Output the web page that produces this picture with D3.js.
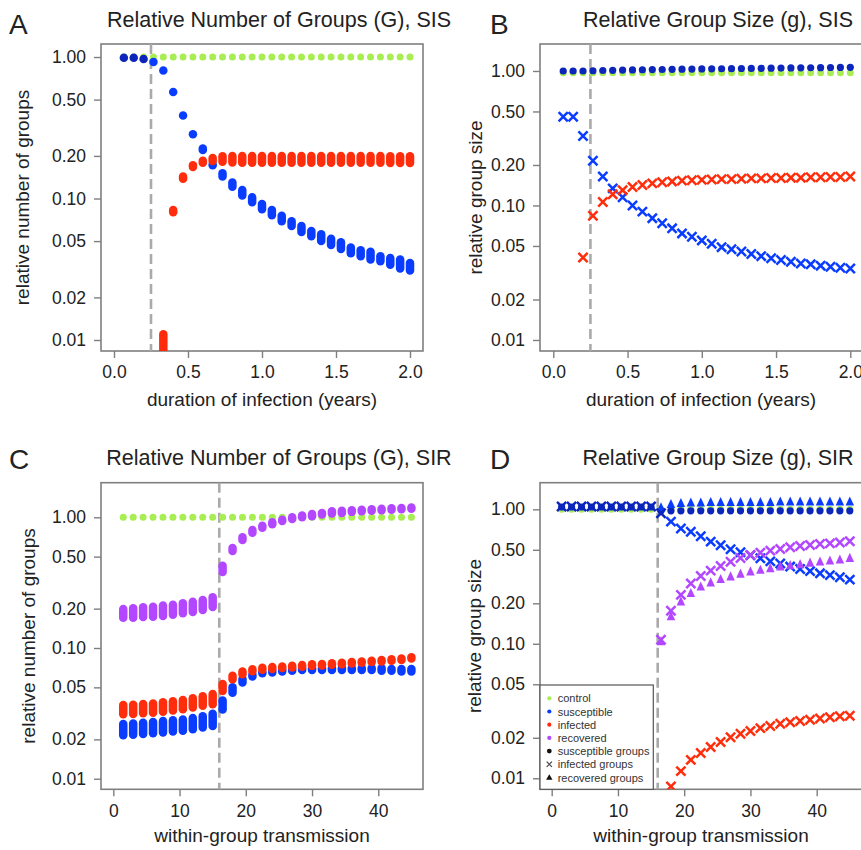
<!DOCTYPE html>
<html><head><meta charset="utf-8">
<script src="https://cdn.jsdelivr.net/npm/d3@7"></script>
<style>
body{margin:0;background:#fff}
svg{display:block}
text{font-family:"Liberation Sans",Arial,Helvetica,sans-serif;fill:#222}
</style>
</head><body>
<svg id="chart" width="861" height="850"></svg>
<script>
// ---------- categories / ticks ----------
const durations = [0.0667,0.1333,0.2,0.2667,0.3333,0.4,0.4667,0.5333,0.6,0.6667,0.7333,0.8,0.8667,0.9333,1,1.0667,1.1333,1.2,1.2667,1.3333,1.4,1.4667,1.5333,1.6,1.6667,1.7333,1.8,1.8667,1.9333,2];
const transmission = [1.5,3,4.5,6,7.5,9,10.5,12,13.5,15,16.5,18,19.5,21,22.5,24,25.5,27,28.5,30,31.5,33,34.5,36,37.5,39,40.5,42,43.5,45];
const yTickValues = [1,0.5,0.2,0.1,0.05,0.02,0.01];
const yTickLabels = ["1.00","0.50","0.20","0.10","0.05","0.02","0.01"];
const durationTicks = [0,0.5,1,1.5,2];
const durationTickLabels = ["0.0","0.5","1.0","1.5","2.0"];
const transmissionTicks = [0,10,20,30,40];
const thresholdDuration = 0.25;
const thresholdTransmission = 16;

// ---------- Panel A: relative number of groups, SIS (ranges over replicates) ----------
const aControl = [1,1,1,1,1,1,1,1,1,1,1,1,1,1,1,1,1,1,1,1,1,1,1,1,1,1,1,1,1,1];
const aSusLo = [0.99,0.99,0.97,0.922,0.803,0.566,0.386,0.285,0.22,0.172,0.143,0.121,0.105,0.094,0.084,0.076,0.069,0.064,0.058,0.054,0.050,0.047,0.044,0.041,0.039,0.037,0.036,0.034,0.032,0.031];
const aSusHi = [0.99,0.99,0.97,0.922,0.803,0.566,0.386,0.285,0.226,0.174,0.151,0.130,0.115,0.102,0.0915,0.083,0.0756,0.069,0.064,0.059,0.056,0.052,0.049,0.045,0.043,0.042,0.039,0.038,0.037,0.035];
const aInfLo = [null,null,null,null,0.006,0.080,0.138,0.167,0.179,0.184,0.182,0.180,0.179,0.179,0.179,0.179,0.179,0.179,0.179,0.179,0.179,0.179,0.179,0.179,0.179,0.179,0.179,0.178,0.178,0.178];
const aInfHi = [null,null,null,null,0.011,0.083,0.143,0.172,0.185,0.193,0.199,0.200,0.200,0.200,0.200,0.200,0.200,0.200,0.200,0.200,0.200,0.200,0.200,0.200,0.200,0.200,0.200,0.199,0.199,0.199];

// ---------- Panel B: relative group size, SIS ----------
const bControl = [0.97,0.97,0.97,0.97,0.97,0.97,0.97,0.97,0.97,0.97,0.97,0.97,0.97,0.97,0.97,0.97,0.97,0.97,0.97,0.97,0.97,0.97,0.97,0.97,0.97,0.97,0.97,0.97,0.97,0.97];
const bSusGroups = [1.0,1.0,1.0,1.004,1.008,1.012,1.015,1.018,1.021,1.024,1.026,1.029,1.031,1.033,1.035,1.037,1.039,1.041,1.043,1.045,1.047,1.049,1.051,1.053,1.055,1.057,1.059,1.061,1.063,1.065];
const bSusInInfGroups = [0.457,0.457,0.329,0.215,0.164,0.134,0.115,0.100,0.090,0.0805,0.0737,0.0676,0.0620,0.0586,0.0550,0.0520,0.0490,0.0473,0.0455,0.0436,0.0420,0.0405,0.0393,0.0382,0.0370,0.0365,0.0357,0.0350,0.0344,0.0340];
const bInfInInfGroups = [null,null,0.041,0.084,0.106,0.121,0.130,0.137,0.142,0.146,0.149,0.151,0.153,0.154,0.155,0.156,0.157,0.157,0.158,0.159,0.159,0.160,0.160,0.161,0.161,0.162,0.162,0.163,0.163,0.164];

// ---------- Panel C: relative number of groups, SIR (ranges over replicates) ----------
const cControl = [1,1,1,1,1,1,1,1,1,1,1,1,1,1,1,1,1,1,1,1,1,1,1,1,1,1,1,1,1,1];
const cSusLo = [0.0215,0.0217,0.022,0.0223,0.0226,0.023,0.0233,0.0239,0.0246,0.0253,0.0339,0.0455,0.0545,0.0605,0.064,0.065,0.066,0.067,0.068,0.068,0.068,0.068,0.068,0.068,0.068,0.068,0.067,0.067,0.066,0.066];
const cSusHi = [0.0262,0.0265,0.0268,0.0272,0.0276,0.028,0.0284,0.0291,0.030,0.0314,0.0396,0.0501,0.058,0.0625,0.0651,0.067,0.068,0.069,0.070,0.070,0.070,0.070,0.070,0.070,0.070,0.070,0.070,0.069,0.069,0.069];
const cInfLo = [0.0311,0.0313,0.0317,0.032,0.0326,0.0332,0.034,0.035,0.0362,0.0371,0.0469,0.0577,0.0629,0.0665,0.0682,0.069,0.0703,0.071,0.072,0.073,0.0735,0.0745,0.075,0.076,0.077,0.078,0.079,0.080,0.081,0.083];
const cInfHi = [0.0366,0.0368,0.0373,0.0377,0.0384,0.0391,0.040,0.0412,0.0427,0.0445,0.053,0.0614,0.0662,0.0688,0.0706,0.0715,0.0722,0.073,0.074,0.075,0.0755,0.0765,0.077,0.078,0.079,0.080,0.081,0.082,0.083,0.085];
const cRecLo = [0.1706,0.1706,0.1727,0.1736,0.1757,0.1798,0.1842,0.1886,0.1953,0.206,0.3815,0.552,0.67,0.763,0.833,0.884,0.937,0.97,1.0,1.02,1.05,1.07,1.08,1.10,1.11,1.12,1.13,1.14,1.15,1.16];
const cRecHi = [0.199,0.201,0.205,0.207,0.211,0.2145,0.2198,0.226,0.233,0.244,0.426,0.582,0.703,0.80,0.862,0.916,0.959,1.0,1.03,1.06,1.08,1.11,1.12,1.13,1.14,1.15,1.16,1.17,1.18,1.19];

// ---------- Panel D: relative group size, SIR ----------
const dControl = [1,1,1,1,1,1,1,1,1,1,1,1,1,1,1,1,1,1,1,1,1,1,1,1,1,1,1,1,1,1];
const dSusInSusGroups = [1.04,1.04,1.04,1.04,1.04,1.04,1.04,1.04,1.04,1.04,0.975,0.975,0.975,0.975,0.975,0.975,0.975,0.975,0.975,0.975,0.975,0.975,0.975,0.975,0.975,0.975,0.975,0.975,0.975,0.975];
const dSusInInfGroups = [1.05,1.05,1.05,1.05,1.05,1.05,1.05,1.05,1.05,1.05,0.934,0.81,0.72,0.68,0.63,0.575,0.54,0.505,0.48,0.455,0.432,0.41,0.395,0.375,0.36,0.347,0.334,0.324,0.312,0.30];
const dSusInRecGroups = [null,null,null,null,null,null,null,null,null,null,1.03,1.09,1.11,1.12,1.12,1.13,1.13,1.13,1.13,1.13,1.13,1.13,1.14,1.14,1.14,1.14,1.14,1.14,1.14,1.14];
const dInfInInfGroups = [null,null,null,null,null,null,null,null,null,null,null,0.0087,0.0113,0.0137,0.0154,0.0171,0.0186,0.0202,0.0214,0.0225,0.0236,0.0245,0.0254,0.0261,0.0267,0.0272,0.0278,0.0284,0.0289,0.0292];
const dRecInInfGroups = [null,null,null,null,null,null,null,null,null,null,0.107,0.176,0.231,0.281,0.319,0.35,0.379,0.408,0.434,0.458,0.476,0.493,0.507,0.522,0.534,0.543,0.552,0.558,0.567,0.578];
const dRecInRecGroups = [null,null,null,null,null,null,null,null,null,null,0.104,0.16,0.206,0.238,0.266,0.285,0.302,0.316,0.331,0.344,0.354,0.364,0.375,0.383,0.39,0.40,0.408,0.415,0.422,0.434];

const legendLabels = ["control","susceptible","infected","recovered","susceptible groups","infected groups","recovered groups"];

// ---------- styles ----------
const COL = {green:"#a8ee52", blue:"#0a3cff", blueDark:"#0c26bc", red:"#ff2d0c", purple:"#b247ff", grid:"#7f7f7f", dash:"#aaaaaa"};

const svg = d3.select("#chart");
svg.append("rect").attr("width",861).attr("height",850).attr("fill","#fff");

function blueFor(v){ return Math.abs(Math.log10(v)) < 0.03 ? COL.blueDark : COL.blue; }

function makePanel(cfg){
  const g = svg.append("g");
  const x = d3.scaleLinear().domain(cfg.xDomain).range([cfg.left, cfg.left+cfg.w]);
  const y = d3.scaleLog().domain(cfg.yDomain).range([cfg.top+cfg.h, cfg.top]);
  const clipId = "clip"+cfg.letter;
  svg.append("clipPath").attr("id",clipId).append("rect")
    .attr("x",cfg.left).attr("y",cfg.top).attr("width",cfg.w).attr("height",cfg.h);
  // axes
  const ya = d3.axisLeft(y).tickValues(yTickValues).tickFormat((d,i)=>yTickLabels[i]).tickSize(7).tickPadding(8);
  const ay = g.append("g").attr("transform",`translate(${cfg.left},0)`).call(ya);
  const xa = d3.axisBottom(x).tickValues(cfg.xTicks).tickFormat((d,i)=>cfg.xTickLabels[i]).tickSize(7).tickPadding(8);
  const ax = g.append("g").attr("transform",`translate(0,${cfg.top+cfg.h})`).call(xa);
  [ay,ax].forEach(a=>{
    a.select(".domain").remove();
    a.selectAll(".tick line").attr("stroke",COL.grid).attr("stroke-width",1.4);
    a.selectAll(".tick text").attr("font-size",17.5).attr("fill","#222")
      .attr("font-family",'"Liberation Sans",Arial,sans-serif');
  });
  // box
  g.append("rect").attr("x",cfg.left).attr("y",cfg.top).attr("width",cfg.w).attr("height",cfg.h)
    .attr("fill","none").attr("stroke",COL.grid).attr("stroke-width",1.6);
  // dashed threshold
  g.append("line").attr("x1",x(cfg.threshold)).attr("x2",x(cfg.threshold))
    .attr("y1",cfg.top).attr("y2",cfg.top+cfg.h)
    .attr("stroke",COL.dash).attr("stroke-width",2.6).attr("stroke-dasharray","10,5");
  // labels
  svg.append("text").attr("x",cfg.letterX).attr("y",cfg.letterY).attr("font-size",28).text(cfg.letter);
  svg.append("text").attr("x",cfg.left+cfg.w/2+17).attr("y",cfg.titleY).attr("font-size",21.5)
    .attr("text-anchor","middle").text(cfg.title);
  svg.append("text").attr("x",cfg.left+161).attr("y",cfg.xTitleY).attr("font-size",19)
    .attr("text-anchor","middle").text(cfg.xTitle);
  svg.append("text").attr("transform",`translate(${cfg.yTitleX},${cfg.top+cfg.h/2}) rotate(-90)`)
    .attr("font-size",19).attr("text-anchor","middle").text(cfg.yTitle);
  const plot = svg.append("g").attr("clip-path",`url(#${clipId})`);
  return {x, y, plot};
}

function dots(P, xs, vals, color, r){
  P.plot.append("g").selectAll("circle")
    .data(xs.map((d,i)=>({x:d,v:vals[i]})).filter(d=>d.v!=null))
    .join("circle").attr("cx",d=>P.x(d.x)).attr("cy",d=>P.y(d.v)).attr("r",r)
    .attr("fill",d=> typeof color==="function" ? color(d.v) : color);
}
function pills(P, xs, lo, hi, color, w){
  P.plot.append("g").selectAll("rect")
    .data(xs.map((d,i)=>({x:d,lo:lo[i],hi:hi[i]})).filter(d=>d.lo!=null))
    .join("rect")
    .attr("x",d=>P.x(d.x)-w/2).attr("y",d=>P.y(d.hi)-w/2)
    .attr("width",w).attr("height",d=>P.y(d.lo)-P.y(d.hi)+w).attr("rx",w/2)
    .attr("fill",d=> typeof color==="function" ? color(d.hi) : color);
}
function crosses(P, xs, vals, color, s, sw){
  P.plot.append("g").selectAll("path")
    .data(xs.map((d,i)=>({x:d,v:vals[i]})).filter(d=>d.v!=null))
    .join("path")
    .attr("d",d=>{const cx=P.x(d.x), cy=P.y(d.v);
      return `M${cx-s},${cy-s}L${cx+s},${cy+s}M${cx-s},${cy+s}L${cx+s},${cy-s}`;})
    .attr("stroke",d=> typeof color==="function" ? color(d.v) : color)
    .attr("stroke-width",sw).attr("fill","none");
}
function triangles(P, xs, vals, color, s){
  P.plot.append("g").selectAll("path")
    .data(xs.map((d,i)=>({x:d,v:vals[i]})).filter(d=>d.v!=null))
    .join("path")
    .attr("d",d=>{const cx=P.x(d.x), cy=P.y(d.v);
      return `M${cx},${cy-s*0.62}L${cx+s/2},${cy+s*0.45}L${cx-s/2},${cy+s*0.45}Z`;})
    .attr("fill",color);
}

// ---------- Panel A ----------
const PA = makePanel({letter:"A", left:101, top:44, w:322, h:307,
  xDomain:[-0.0878,2.0878], yDomain:[0.00836,1.236],
  xTicks:durationTicks, xTickLabels:durationTickLabels, threshold:thresholdDuration,
  letterX:9, letterY:34, titleY:27, xTitleY:406, yTitleX:28.5,
  title:"Relative Number of Groups (G), SIS", xTitle:"duration of infection (years)", yTitle:"relative number of groups"});
dots(PA, durations, aControl, COL.green, 3.5);
pills(PA, durations, aSusLo, aSusHi, blueFor, 8.5);
pills(PA, durations, aInfLo, aInfHi, COL.red, 8.5);

// ---------- Panel B ----------
const PB = makePanel({letter:"B", left:540, top:44, w:322, h:307,
  xDomain:[-0.0896,2.0788], yDomain:[0.00828,1.587],
  xTicks:durationTicks, xTickLabels:durationTickLabels, threshold:thresholdDuration,
  letterX:490, letterY:34, titleY:27, xTitleY:406, yTitleX:481.5,
  title:"Relative Group Size (g), SIS", xTitle:"duration of infection (years)", yTitle:"relative group size"});
dots(PB, durations, bControl, COL.green, 3.5);
dots(PB, durations, bSusGroups, blueFor, 3.6);
crosses(PB, durations, bSusInInfGroups, COL.blue, 4.6, 2.5);
crosses(PB, durations, bInfInInfGroups, COL.red, 4.6, 2.5);

// ---------- Panel C ----------
const PC = makePanel({letter:"C", left:101, top:482.7, w:322, h:306.6,
  xDomain:[-1.857,46.75], yDomain:[0.0083,1.839],
  xTicks:transmissionTicks, xTickLabels:transmissionTicks.map(String), threshold:thresholdTransmission,
  letterX:9, letterY:469, titleY:465, xTitleY:842, yTitleX:35,
  title:"Relative Number of Groups (G), SIR", xTitle:"within-group transmission", yTitle:"relative number of groups"});
dots(PC, transmission, cControl, COL.green, 3.5);
pills(PC, transmission, cSusLo, cSusHi, COL.blue, 8.5);
pills(PC, transmission, cInfLo, cInfHi, COL.red, 8.5);
pills(PC, transmission, cRecLo, cRecHi, COL.purple, 8.5);

// ---------- Panel D ----------
const PD = makePanel({letter:"D", left:540, top:482.7, w:322, h:306.6,
  xDomain:[-1.766,46.84], yDomain:[0.00828,1.577],
  xTicks:transmissionTicks, xTickLabels:transmissionTicks.map(String), threshold:thresholdTransmission,
  letterX:490, letterY:469, titleY:465, xTitleY:842, yTitleX:480.5,
  title:"Relative Group Size (g), SIR", xTitle:"within-group transmission", yTitle:"relative group size"});
dots(PD, transmission, dControl, COL.green, 3.5);
dots(PD, transmission, dSusInSusGroups, blueFor, 3.6);
triangles(PD, transmission, dSusInRecGroups, COL.blue, 8.5);
crosses(PD, transmission, dSusInInfGroups, blueFor, 4.6, 2.5);
triangles(PD, transmission, dRecInRecGroups, COL.purple, 8.5);
crosses(PD, transmission, dRecInInfGroups, COL.purple, 4.6, 2.5);
crosses(PD, transmission, dInfInInfGroups, COL.red, 4.6, 2.5);

// legend (panel D)
const lg = svg.append("g");
lg.append("rect").attr("x",540).attr("y",685).attr("width",113.3).attr("height",104.3)
  .attr("fill","#fff").attr("stroke","#555").attr("stroke-width",1.2);
const legendColors = [COL.green, COL.blue, COL.red, COL.purple, "#111", "#444", "#111"];
legendLabels.forEach((lab,i)=>{
  const cy = 698.3 + i*13.2, cx = 549.3;
  if(i<5){
    lg.append("circle").attr("cx",cx).attr("cy",cy).attr("r",i<4?2.1:2.4).attr("fill",legendColors[i]);
  } else if(i===5){
    lg.append("path").attr("d",`M${cx-2.6},${cy-2.6}L${cx+2.6},${cy+2.6}M${cx-2.6},${cy+2.6}L${cx+2.6},${cy-2.6}`)
      .attr("stroke",legendColors[i]).attr("stroke-width",1.2);
  } else {
    lg.append("path").attr("d",`M${cx},${cy-3.2}L${cx+3.2},${cy+2.3}L${cx-3.2},${cy+2.3}Z`).attr("fill",legendColors[i]);
  }
  lg.append("text").attr("x",557.7).attr("y",cy+4).attr("font-size",11).style("fill","#333").text(lab);
});
</script>
</body></html>
